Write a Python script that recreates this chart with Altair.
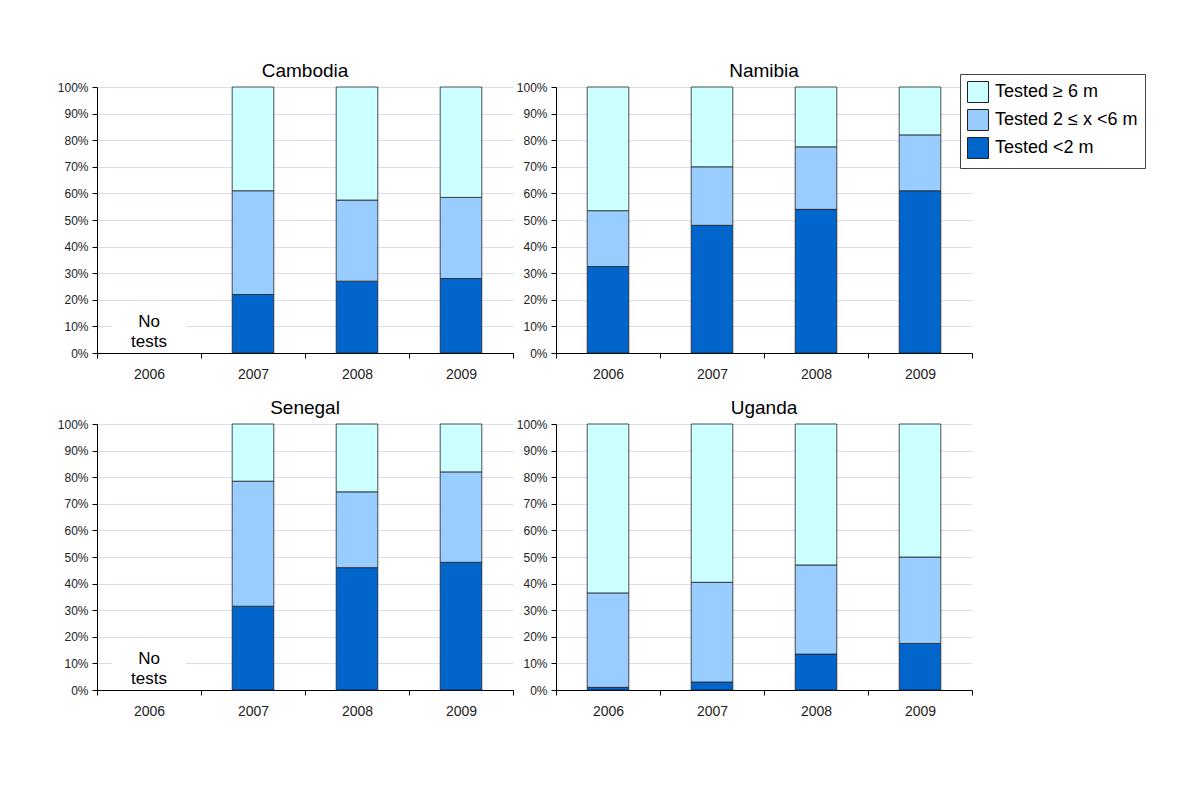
import altair as alt
import pandas as pd

countries = ["Cambodia", "Namibia", "Senegal", "Uganda"]
years = ["2006", "2007", "2008", "2009"]
categories = ["Tested ≥ 6 m", "Tested 2 ≤ x <6 m", "Tested <2 m"]
colors = ["#CCFFFF", "#99CCFF", "#0066CC"]

# percent values per country, per year (None = no tests)
lt2 = {
    "Cambodia": [None, 22, 27, 28],
    "Namibia": [32.5, 48, 54, 61],
    "Senegal": [None, 31.5, 46, 48],
    "Uganda": [1, 3, 13.5, 17.5],
}
mid = {
    "Cambodia": [None, 39, 30.5, 30.5],
    "Namibia": [21, 22, 23.5, 21],
    "Senegal": [None, 47, 28.5, 34],
    "Uganda": [35.5, 37.5, 33.5, 32.5],
}
ge6 = {
    "Cambodia": [None, 39, 42.5, 41.5],
    "Namibia": [46.5, 30, 22.5, 18],
    "Senegal": [None, 21.5, 25.5, 18],
    "Uganda": [63.5, 59.5, 53, 50],
}
no_tests = {"Cambodia": "2006", "Senegal": "2006"}

rows = []
for c in countries:
    for i, yr in enumerate(years):
        for cat, series, order in [(categories[2], lt2, 0), (categories[1], mid, 1), (categories[0], ge6, 2)]:
            v = series[c][i]
            if v is not None:
                rows.append({"country": c, "year": yr, "cat": cat, "value": v, "ord": order})
df = pd.DataFrame(rows)

FONT = "Liberation Sans"
W, H = 416, 266

xscale = alt.Scale(domain=years, paddingInner=0, paddingOuter=0)
yscale = alt.Scale(domain=[0, 1])

xaxis = alt.Axis(title=None, tickBand="extent", labelPadding=9, tickSize=5, labelAngle=0,
                 minExtent=30, maxExtent=30, grid=False, labelFontSize=14)
yaxis = alt.Axis(title=None, format=".0%", values=[i / 10 for i in range(11)],
                 tickSize=5, labelPadding=4, minExtent=40, maxExtent=40,
                 labelFontSize=12, grid=True)


def panel(country):
    bars = alt.Chart(df).transform_filter(
        alt.datum.country == country
    ).mark_bar(stroke="#222222", strokeWidth=0.8, width=alt.RelativeBandSize(0.4)).encode(
        x=alt.X("year:N", scale=xscale, axis=xaxis),
        y=alt.Y("value:Q", stack="normalize", scale=yscale, axis=yaxis),
        color=alt.Color("cat:N", scale=alt.Scale(domain=categories, range=colors),
                        legend=alt.Legend(title=None, orient="none", legendX=863, legendY=-13,
                                          symbolType="square", symbolSize=441,
                                          symbolStrokeColor="#222222", symbolStrokeWidth=1,
                                          labelFontSize=18, labelFont=FONT, labelColor="#000000",
                                          strokeColor="#444444", fillColor="#ffffff",
                                          padding=7, rowPadding=2, labelOffset=6)),
        order=alt.Order("ord:Q", sort="ascending"),
    )
    layers = [bars]
    if country in no_tests:
        nt = pd.DataFrame({"year": [no_tests[country]], "y0": [0.02], "y1": [0.165],
                           "ym": [0.117], "label": ["No\ntests"]})
        bg = alt.Chart(nt).mark_bar(color="white", width=74).encode(
            x=alt.X("year:N", scale=xscale, axis=xaxis),
            y=alt.Y("y0:Q", scale=yscale, axis=yaxis),
            y2="y1:Q",
        )
        txt = alt.Chart(nt).mark_text(lineBreak="\n", fontSize=17, font=FONT, color="#000000",
                                      lineHeight=20).encode(
            x=alt.X("year:N", scale=xscale, axis=xaxis),
            y=alt.Y("ym:Q", scale=yscale, axis=yaxis),
            text="label:N",
        )
        layers += [bg, txt]
    return alt.layer(*layers).properties(
        width=W, height=H,
        title=alt.TitleParams(text=country, fontSize=19, font=FONT, fontWeight="normal",
                              color="#000000", offset=0),
    )


top = alt.hconcat(panel("Cambodia"), panel("Namibia"), spacing=2)
bottom = alt.hconcat(panel("Senegal"), panel("Uganda"), spacing=2)
chart = alt.vconcat(top, bottom, spacing=16).properties(
    padding={"left": 49, "top": 54, "right": 5, "bottom": 5}
).configure_view(stroke=None).configure_axis(
    labelFont=FONT, labelColor="#222222", domainColor="#000000", tickColor="#000000",
    gridColor="#DCDCF0", domainWidth=1, tickWidth=1
).configure_concat(spacing=2)

chart.save("out.html", embed_options={"renderer": "svg", "actions": False})
